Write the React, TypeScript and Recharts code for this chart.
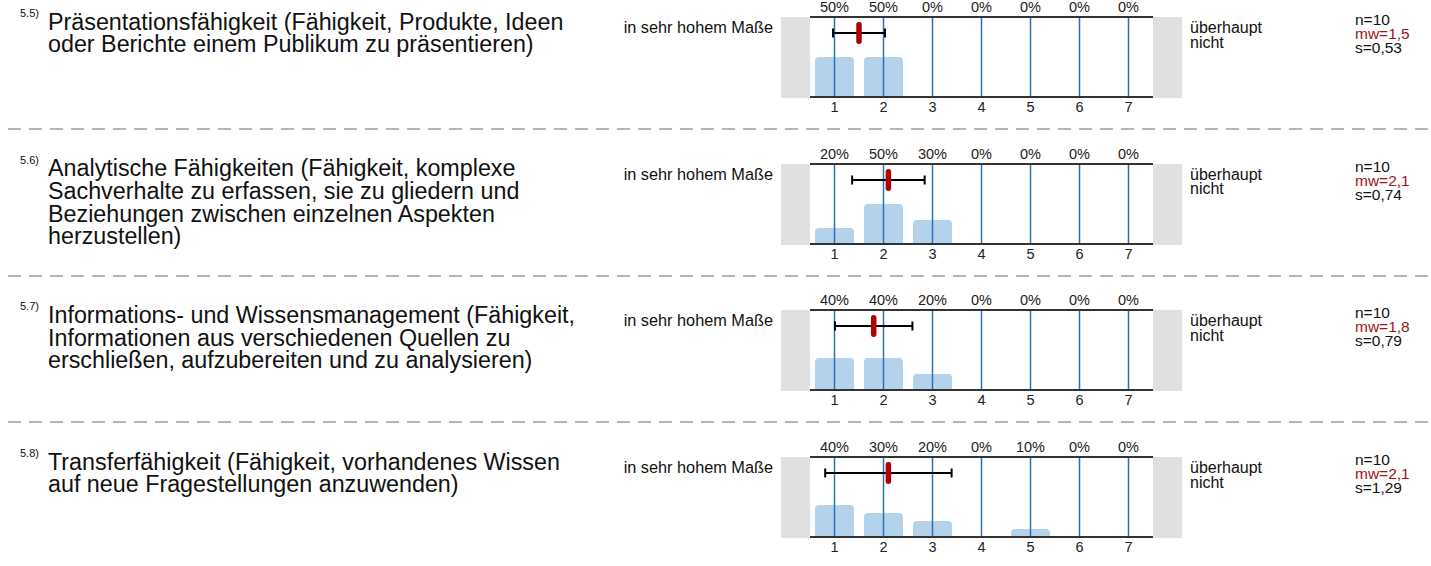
import React from "react";
import { Bar, ComposedChart, ErrorBar, ReferenceLine, Scatter, XAxis, YAxis } from "recharts";

// answer scale 1..7
const SCALE = ["1", "2", "3", "4", "5", "6", "7"];

const ITEM_NUMS = ["5.5)", "5.6)", "5.7)", "5.8)"];

const ITEM_TITLES = [
  ["Präsentationsfähigkeit (Fähigkeit, Produkte, Ideen", "oder Berichte einem Publikum zu präsentieren)"],
  [
    "Analytische Fähigkeiten (Fähigkeit, komplexe",
    "Sachverhalte zu erfassen, sie zu gliedern und",
    "Beziehungen zwischen einzelnen Aspekten",
    "herzustellen)",
  ],
  [
    "Informations- und Wissensmanagement (Fähigkeit,",
    "Informationen aus verschiedenen Quellen zu",
    "erschließen, aufzubereiten und zu analysieren)",
  ],
  ["Transferfähigkeit (Fähigkeit, vorhandenes Wissen", "auf neue Fragestellungen anzuwenden)"],
];

// share of answers per scale point, in %
const PCT_55 = [50, 50, 0, 0, 0, 0, 0];
const PCT_56 = [20, 50, 30, 0, 0, 0, 0];
const PCT_57 = [40, 40, 20, 0, 0, 0, 0];
const PCT_58 = [40, 30, 20, 0, 10, 0, 0];
const PCTS = [PCT_55, PCT_56, PCT_57, PCT_58];

const N_VALUES = [10, 10, 10, 10];
const MEANS = [1.5, 2.1, 1.8, 2.1];
const SDS = [0.53, 0.74, 0.79, 1.29];

const LEFT_LABEL = "in sehr hohem Maße";
const RIGHT_LABEL = ["überhaupt", "nicht"];

// height (in % of the plot) where the mean / sd marker sits
const ERR_ROW = 80;

const FONT = "'Liberation Sans', Arial, Helvetica, sans-serif";
const PANEL_H = 146.67;

const fmt = (v: number, d: number) => v.toFixed(d).replace(".", ",");

function MeanMark(props: any) {
  const { cx, cy } = props;
  return <rect x={cx - 2.75} y={cy - 11} width={5.5} height={22} rx={2.75} fill="#b00000" />;
}

function ItemChart({ pcts, mean, sd }: { pcts: number[]; mean: number; sd: number }) {
  const rows = SCALE.map((c, i) => ({ cat: c, pct: pcts[i] }));
  const marks = [{ x: mean, y: ERR_ROW, sd }];
  return (
    <ComposedChart
      width={420}
      height={125}
      data={rows}
      margin={{ top: 0, right: 37, bottom: 8, left: 40 }}
    >
      <XAxis
        xAxisId="cat"
        dataKey="cat"
        type="category"
        height={20}
        tickLine={false}
        tickSize={0}
        tickMargin={5}
        axisLine={{ stroke: "#333", strokeWidth: 2 }}
        tick={{ fontSize: 14.5, fill: "#222", fontFamily: FONT }}
        interval={0}
      />
      <XAxis
        xAxisId="top"
        dataKey="cat"
        type="category"
        orientation="top"
        height={17}
        tickLine={false}
        tickSize={0}
        tickMargin={5}
        axisLine={{ stroke: "#333", strokeWidth: 2 }}
        tick={{ fontSize: 14.5, fill: "#222", fontFamily: FONT }}
        tickFormatter={(_v: any, i: number) => `${pcts[i]}%`}
        interval={0}
      />
      <XAxis xAxisId="num" dataKey="x" type="number" domain={[0.5, 7.5]} hide />
      <YAxis type="number" domain={[0, 100]} hide />
      {SCALE.map((c) => (
        <ReferenceLine key={c} xAxisId="cat" x={c} stroke="#2f6fb3" strokeWidth={1.5} />
      ))}
      <Bar
        xAxisId="cat"
        dataKey="pct"
        barSize={39}
        fill="#5da2d8"
        fillOpacity={0.47}
        radius={[4, 4, 0, 0]}
        isAnimationActive={false}
      />
      <Scatter
        xAxisId="num"
        data={marks}
        dataKey="y"
        shape={MeanMark}
        isAnimationActive={false}
      >
        <ErrorBar dataKey="sd" direction="x" width={4.5} stroke="#000" strokeWidth={2} isAnimationActive={false} />
      </Scatter>
    </ComposedChart>
  );
}

function Separator({ top }: { top: number }) {
  return (
    <svg width={1431} height={4} style={{ position: "absolute", left: 0, top: top - 2 }}>
      <line x1={8} y1={2} x2={1431} y2={2} stroke="#b5b5b5" strokeWidth={2} strokeDasharray="13 8" />
    </svg>
  );
}

function Panel({ idx }: { idx: number }) {
  const top = idx * PANEL_H;
  return (
    <div style={{ position: "absolute", left: 0, top, width: 1431, height: PANEL_H }}>
      <div style={{ position: "absolute", left: 20, top: 7, fontSize: 11, lineHeight: "12px", color: "#111" }}>
        {ITEM_NUMS[idx]}
      </div>
      <div style={{ position: "absolute", left: 48, top: 10.5, fontSize: 23.3, lineHeight: "22.7px", color: "#111", whiteSpace: "nowrap" }}>
        {ITEM_TITLES[idx].map((l) => (
          <div key={l}>{l}</div>
        ))}
      </div>
      <div
        style={{
          position: "absolute",
          left: 573,
          width: 200,
          top: 19,
          textAlign: "right",
          fontSize: 16.3,
          lineHeight: "16px",
          color: "#111",
          whiteSpace: "nowrap",
        }}
      >
        {LEFT_LABEL}
      </div>
      <div style={{ position: "absolute", left: 781, top: 17, width: 29, height: 81, background: "#e0e0e0" }} />
      <div style={{ position: "absolute", left: 1153, top: 17, width: 29, height: 81, background: "#e0e0e0" }} />
      <div style={{ position: "absolute", left: 770, top: 0 }}>
        <ItemChart pcts={PCTS[idx]} mean={MEANS[idx]} sd={SDS[idx]} />
      </div>
      <div style={{ position: "absolute", left: 1190, top: 21, fontSize: 16, lineHeight: "14.5px", color: "#111" }}>
        {RIGHT_LABEL.map((l) => (
          <div key={l}>{l}</div>
        ))}
      </div>
      <div style={{ position: "absolute", left: 1355, top: 13, fontSize: 15.5, lineHeight: "14px", color: "#111", whiteSpace: "nowrap" }}>
        <div>n={N_VALUES[idx]}</div>
        <div style={{ color: "#a01414" }}>mw={fmt(MEANS[idx], 1)}</div>
        <div>s={fmt(SDS[idx], 2)}</div>
      </div>
      {idx < ITEM_TITLES.length - 1 && <Separator top={129} />}
    </div>
  );
}

export default function App() {
  return (
    <div
      style={{
        position: "absolute",
        left: 0,
        top: 0,
        width: 1431,
        height: 566,
        background: "#fff",
        fontFamily: FONT,
        overflow: "hidden",
      }}
    >
      {ITEM_TITLES.map((_, i) => (
        <Panel key={i} idx={i} />
      ))}
    </div>
  );
}
